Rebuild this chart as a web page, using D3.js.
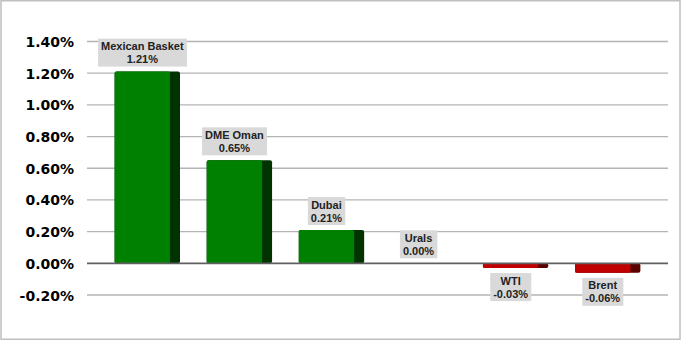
<!DOCTYPE html>
<html>
<head>
<meta charset="utf-8">
<script src="https://cdn.jsdelivr.net/npm/d3@7"></script>
<style>
  body { margin: 0; background: #fff; }
  svg { display: block; }
</style>
</head>
<body>
<div id="chart"></div>
<script>
// Daily change by crude benchmark
const categories = ['Mexican Basket', 'DME Oman', 'Dubai', 'Urals', 'WTI', 'Brent'];
const values = [1.21, 0.65, 0.21, 0.00, -0.03, -0.06];
const labels = ['1.21%', '0.65%', '0.21%', '0.00%', '-0.03%', '-0.06%'];
const yTicks = [-0.2, 0, 0.2, 0.4, 0.6, 0.8, 1.0, 1.2, 1.4];

const width = 681, height = 341;

const svg = d3.select('#chart')
    .append('svg')
    .attr('width', width)
    .attr('height', height);

// chart border
svg.append('rect')
    .attr('x', 1).attr('y', 0.75)
    .attr('width', 679).attr('height', 338.5)
    .attr('fill', '#fff')
    .attr('stroke', '#bfbfbf')
    .attr('stroke-width', 1.5);

const x = d3.scaleBand()
    .domain(categories)
    .range([87, 668])
    .paddingInner(0.29)
    .paddingOuter(0.3);

const y = d3.scaleLinear()
    .domain([-0.2, 1.4])
    .range([295, 41.5]);

// gridlines
svg.append('g')
    .selectAll('line')
    .data(yTicks.filter(d => d !== 0))
    .enter()
    .append('line')
    .attr('x1', 87).attr('x2', 668)
    .attr('y1', d => y(d)).attr('y2', d => y(d))
    .attr('stroke', '#b4b4b4')
    .attr('stroke-width', 1.3);

// y axis labels (plain hyphen for negatives)
const yAxis = d3.axisLeft(y)
    .tickValues(yTicks)
    .tickSize(0)
    .tickPadding(0)
    .tickFormat(d => d.toFixed(2) + '%');

svg.append('g')
    .attr('transform', 'translate(74,0)')
    .call(yAxis)
    .call(g => g.select('.domain').remove())
    .selectAll('text')
    .attr('dy', '0.36em')
    .style('font-family', '"DejaVu Sans", Verdana, sans-serif')
    .style('font-weight', 'bold')
    .style('font-size', '14px')
    .attr('fill', '#000');

// bars: front face + darker side face
const bw = x.bandwidth();
const side = Math.round(bw * 0.16);
const front = bw - side;

const bars = svg.append('g')
    .selectAll('g')
    .data(values.map((v, i) => ({ name: categories[i], value: v, label: labels[i] })))
    .enter()
    .append('g');

bars.filter(d => d.value !== 0)
    .append('rect')
    .attr('x', d => x(d.name))
    .attr('y', d => Math.min(y(d.value), y(0)))
    .attr('width', bw)
    .attr('height', d => Math.abs(y(d.value) - y(0)))
    .attr('rx', 2)
    .attr('fill', d => d.value >= 0 ? '#003300' : '#5a0000');

bars.filter(d => d.value !== 0)
    .append('rect')
    .attr('x', d => x(d.name))
    .attr('y', d => Math.min(y(d.value), y(0)))
    .attr('width', front)
    .attr('height', d => Math.abs(y(d.value) - y(0)))
    .attr('rx', 1.5)
    .attr('fill', d => d.value >= 0 ? '#008000' : '#c00000');

// zero line
svg.append('line')
    .attr('x1', 87).attr('x2', 668)
    .attr('y1', y(0)).attr('y2', y(0))
    .attr('stroke', '#5f5f5f')
    .attr('stroke-width', 1.8);

// data labels
const lab = bars.append('g')
    .attr('transform', d => {
        const cx = x(d.name) + front / 2;
        const cy = d.value >= 0 ? y(d.value) - 19 : y(d.value) + 19;
        return `translate(${cx},${cy})`;
    });

const box = lab.append('rect').attr('fill', '#d9d9d9');

lab.append('text')
    .attr('text-anchor', 'middle')
    .style('font-family', 'Arial, "Liberation Sans", sans-serif')
    .style('font-weight', 'bold')
    .style('font-size', '11px')
    .attr('fill', '#222')
    .each(function (d) {
        const t = d3.select(this);
        t.append('tspan').attr('x', 0).attr('y', -2.5).text(d.name);
        t.append('tspan').attr('x', 0).attr('y', 10.5).text(d.label);
    });

lab.each(function () {
    const g = d3.select(this);
    const bb = g.select('text').node().getBBox();
    g.select('rect')
        .attr('x', bb.x - 3)
        .attr('y', -14)
        .attr('width', bb.width + 6)
        .attr('height', 28);
});
</script>
</body>
</html>
